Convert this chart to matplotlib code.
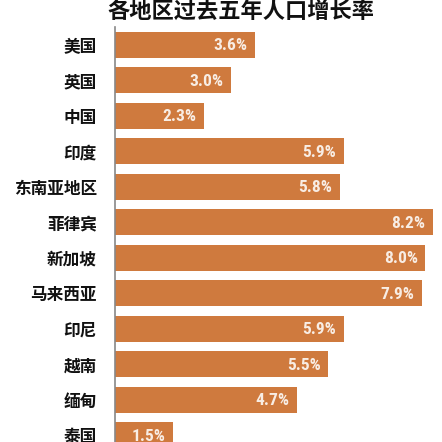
import matplotlib
matplotlib.use("Agg")
import matplotlib.pyplot as plt
from matplotlib import font_manager as fm

categories = ["美国", "英国", "中国", "印度", "东南亚地区", "菲律宾", "新加坡", "马来西亚", "印尼", "越南", "缅甸", "泰国"]
values = [3.6, 3.0, 2.3, 5.9, 5.8, 8.2, 8.0, 7.9, 5.9, 5.5, 4.7, 1.5]
value_labels = ["3.6%", "3.0%", "2.3%", "5.9%", "5.8%", "8.2%", "8.0%", "7.9%", "5.9%", "5.5%", "4.7%", "1.5%"]
title = "各地区过去五年人口增长率"

names = {f.name for f in fm.fontManager.ttflist}
num_font = "DejaVu Sans"
for cand in ["Roboto Condensed", "Liberation Sans Narrow", "Open Sans Condensed", "Noto Sans Condensed"]:
    if cand in names:
        num_font = cand
        break

W, H = 442, 442
fig = plt.figure(figsize=(W / 100, H / 100), dpi=100)
fig.patch.set_facecolor("white")

top_px = 27
step_px = 35.5
n = len(categories)
bottom_px = top_px + n * step_px
left_px = 115
ax = fig.add_axes([left_px / W, 1 - bottom_px / H, 1 - left_px / W, (bottom_px - top_px) / H])

bar_color = "#CF7A3E"
ypos = list(range(n))
ax.barh(ypos, values, height=0.72, color=bar_color, zorder=2)
ax.set_ylim(n - 0.5, -0.5)
ax.set_xlim(0, (W - left_px) / 38.8)

for y, v, lab in zip(ypos, values, value_labels):
    ax.text(v - 0.2, y + 0.03, lab, ha="right", va="center", color="#F8EDE4",
            fontsize=12.5, fontweight="bold", fontstretch="condensed",
            family=[num_font, "DejaVu Sans"], zorder=3)

ax.set_yticks(ypos)
ax.set_yticklabels(categories, fontsize=12, fontweight="bold",
                   family=["Noto Sans CJK SC", "DejaVu Sans"], color="#111111")
ax.tick_params(axis="y", length=0, pad=13)
ax.set_xticks([])
for s in ["top", "right", "bottom"]:
    ax.spines[s].set_visible(False)
ax.spines["left"].set_color("#888888")
ax.spines["left"].set_linewidth(1.2)

fig.text(241 / W, 1 - 11 / H, title, ha="center", va="center", fontsize=16,
         fontweight="heavy", family=["Noto Sans CJK SC", "DejaVu Sans"], color="#111111")

fig.savefig("out.png", dpi=100, facecolor="white")
